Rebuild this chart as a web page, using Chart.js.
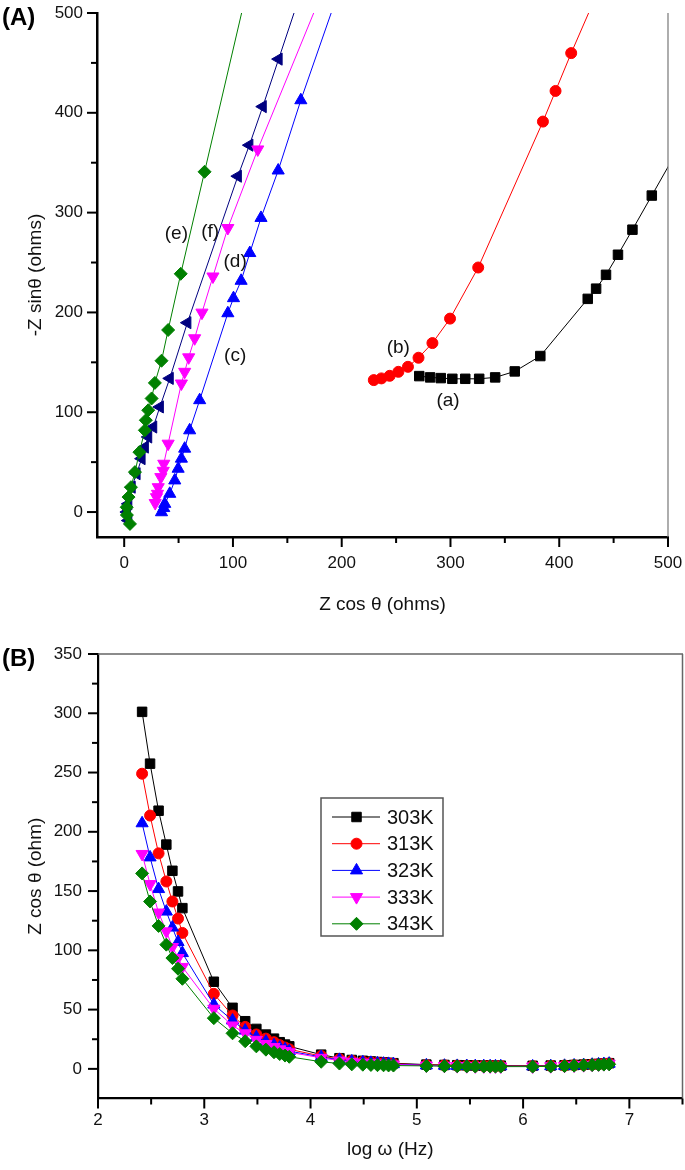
<!DOCTYPE html>
<html><head><meta charset="utf-8">
<script src="https://cdn.jsdelivr.net/npm/chart.js@4.4.1/dist/chart.umd.min.js"></script>
<style>
html,body{margin:0;padding:0;background:#fff;}
#wrap{position:relative;width:685px;height:1170px;overflow:hidden;background:#fff;}
canvas{position:absolute;left:0;}
.tag{position:absolute;left:2px;font:bold 24px Arial,"Liberation Sans",sans-serif;line-height:24px;color:#000;}
</style></head><body>
<div id="wrap">
<canvas id="cA" width="685" height="625" style="top:0"></canvas>
<canvas id="cB" width="685" height="545" style="top:625px"></canvas>
<div class="tag" style="top:5px">(A)</div>
<div class="tag" style="top:646px">(B)</div>
</div>
<script>
// ---------- Panel (A): Nyquist plot data (Z cos θ, -Z sin θ) ----------
const aX = [271.3, 281.3, 291.1, 301.7, 313.6, 326.4, 341.1, 359.1, 382.6, 426.2, 433.9, 443.0, 454.0, 467.3, 485.1, 510];
const aY = [136.2, 134.9, 134.2, 133.5, 133.5, 133.5, 134.9, 140.9, 156.3, 213.6, 223.8, 237.7, 257.8, 282.9, 317.1, 365];
const bX = [229.5, 236.5, 244.1, 252.1, 260.9, 270.6, 283.4, 299.6, 325.5, 385.0, 396.6, 411.0, 431];
const bY = [132.2, 133.9, 136.5, 140.5, 145.5, 154.6, 169.3, 193.8, 245.0, 391.2, 421.9, 459.8, 510];
const cX = [34.3, 36.4, 37.3, 41.9, 46.5, 49.6, 52.6, 55.6, 60.2, 69.4, 95.3, 100.5, 107.5, 115.5, 125.8, 141.6, 162.4, 193.5];
const cY = [-0.2, 4.0, 8.2, 18.3, 31.7, 43.4, 53.5, 63.5, 81.9, 112.1, 199.2, 214.3, 231.7, 259.5, 294.7, 342.2, 412.6, 510];
const dX = [28.5, 29.7, 30.6, 31.3, 33.7, 35.9, 36.4, 40.4, 52.6, 55.6, 59.3, 64.8, 71.5, 81.6, 95.3, 122.8, 178];
const dY = [9.0, 14.9, 18.3, 24.9, 35.0, 41.3, 48.4, 68.5, 128.8, 140.5, 155.0, 174.1, 199.8, 236.0, 284.6, 363.3, 510];
const eX = [5.3, 2.5, 2.3, 4.0, 6.2, 9.9, 14.0, 19.0, 19.9, 22.1, 25.2, 28.2, 34.3, 40.4, 52.0, 73.9, 110.1];
const eY = [-11.9, -3.0, 4.8, 15.0, 24.9, 40.0, 60.0, 81.9, 92.0, 102.0, 113.8, 129.4, 151.6, 182.4, 238.7, 340.9, 510];
const fX = [3.8, 2.5, 3.8, 6.9, 11.4, 16.0, 19.0, 22.1, 26.7, 32.8, 41.9, 58.1, 104.5, 115.1, 127.4, 142.0, 159.2];
const fY = [-8.5, 0.0, 8.2, 24.9, 38.4, 53.5, 65.1, 75.2, 85.2, 105.3, 133.9, 189.7, 336.5, 367.6, 406.2, 453.8, 510];
const nyqTicks = [0, 50, 100, 150, 200, 250, 300, 350, 400, 450, 500];
const curveNames = ['(a)', '(b)', '(c)', '(d)', '(e)', '(f)'];
const curveNameX = [297.8, 252.0, 102.0, 102.0, 48.0, 79.1];
const curveNameY = [111.0, 164.3, 156.3, 250.8, 278.9, 280.9];

// ---------- Panel (B): Z cos θ vs log ω ----------
const logW = [2.415, 2.49, 2.57, 2.643, 2.70, 2.753, 2.794,
  3.09, 3.266, 3.385, 3.49, 3.58, 3.656, 3.71, 3.76, 3.80,
  4.10, 4.272, 4.388, 4.492, 4.568, 4.63, 4.687, 4.734, 4.78,
  5.09, 5.26, 5.38, 5.47, 5.55, 5.63, 5.69, 5.74, 5.79,
  6.09, 6.26, 6.39, 6.48, 6.57, 6.65, 6.71, 6.76, 6.81];
const temps = ['303K', '313K', '323K', '333K', '343K'];
const z303 = [301.2, 257.5, 217.8, 189.2, 167.1, 149.7, 135.6,
  73.5, 51.5, 40.2, 33.7, 28.9, 25.5, 22.5, 20.5, 19.0,
  12.0, 9.0, 7.5, 6.8, 6.2, 5.8, 5.4, 5.1, 4.8,
  3.6, 3.3, 3.1, 3.0, 2.9, 2.8, 2.8, 2.7, 2.7,
  2.6, 2.8, 3.0, 3.3, 3.6, 3.9, 4.2, 4.5, 4.8];
const z313 = [249.0, 213.7, 181.8, 158.1, 141.2, 126.8, 114.7,
  63.3, 45.0, 35.4, 29.0, 25.5, 22.5, 20.0, 18.0, 16.5,
  10.8, 8.2, 6.8, 6.0, 5.5, 5.1, 4.8, 4.5, 4.3,
  3.3, 3.0, 2.8, 2.7, 2.6, 2.5, 2.5, 2.4, 2.4,
  2.4, 2.6, 2.8, 3.1, 3.4, 3.7, 4.0, 4.3, 4.6];
const z323 = [207.2, 178.4, 151.7, 132.7, 119.2, 107.0, 97.7,
  54.3, 40.8, 32.3, 26.7, 23.0, 20.0, 18.0, 16.5, 15.0,
  10.0, 7.6, 6.3, 5.6, 5.1, 4.7, 4.4, 4.2, 4.0,
  3.0, 2.7, 2.5, 2.4, 2.3, 2.3, 2.2, 2.2, 2.2,
  2.1, 2.3, 2.6, 2.9, 3.2, 3.5, 3.8, 4.1, 4.4];
const z333 = [181.3, 155.9, 131.9, 116.0, 102.8, 93.5, 86.0,
  50.7, 36.6, 30.0, 24.5, 21.0, 18.5, 16.5, 15.0, 14.0,
  9.3, 7.0, 5.9, 5.2, 4.8, 4.4, 4.1, 3.9, 3.7,
  2.8, 2.5, 2.3, 2.2, 2.1, 2.1, 2.0, 2.0, 2.0,
  2.0, 2.2, 2.5, 2.8, 3.1, 3.4, 3.7, 4.0, 4.3];
const z343 = [164.9, 141.2, 120.6, 104.8, 93.5, 84.5, 76.0,
  42.8, 30.0, 23.3, 19.0, 16.2, 14.0, 12.5, 11.2, 10.2,
  6.0, 4.5, 3.8, 3.5, 3.3, 3.1, 3.0, 2.9, 2.8,
  2.5, 2.3, 2.2, 2.1, 2.0, 2.0, 2.0, 1.9, 1.9,
  1.9, 2.1, 2.4, 2.7, 3.0, 3.2, 3.4, 3.6, 3.8];
const logWTicks = [2, 2.5, 3, 3.5, 4, 4.5, 5, 5.5, 6, 6.5, 7, 7.5];
const zTicks = [0, 25, 50, 75, 100, 125, 150, 175, 200, 225, 250, 275, 300, 325, 350];

// ---------- helpers ----------
const FONT = 'Arial, "Liberation Sans", sans-serif';
Chart.defaults.font.family = FONT;
Chart.defaults.color = '#111';

function pts(xs, ys) { return xs.map((x, i) => ({ x: x, y: ys[i] })); }

function marker(ctx, style, rot, r, x, y) {
  ctx.save();
  ctx.translate(x, y);
  ctx.rotate(rot * Math.PI / 180);
  ctx.beginPath();
  if (style === 'circle') ctx.arc(0, 0, r, 0, 2 * Math.PI);
  else if (style === 'rect') { const s = r * Math.SQRT1_2; ctx.rect(-s, -s, 2 * s, 2 * s); }
  else if (style === 'rectRot') { ctx.moveTo(0, -r); ctx.lineTo(r, 0); ctx.lineTo(0, r); ctx.lineTo(-r, 0); ctx.closePath(); }
  else if (style === 'triangle') {
    for (let k = 0; k < 3; k++) {
      const a = k * 2 * Math.PI / 3;
      const px = Math.sin(a) * r, py = -Math.cos(a) * r;
      if (k === 0) ctx.moveTo(px, py); else ctx.lineTo(px, py);
    }
    ctx.closePath();
  }
  ctx.fill();
  ctx.stroke();
  ctx.restore();
}

const axisMarks = {
  id: 'axisMarks',
  afterDraw(chart, args, o) {
    const ctx = chart.ctx, ca = chart.chartArea;
    ctx.save();
    ctx.strokeStyle = '#000';
    ctx.lineWidth = o.lineWidth;
    ['x', 'y'].forEach(id => {
      const s = chart.scales[id], step = o.major[id];
      s.ticks.forEach(t => {
        const p = s.getPixelForValue(t.value);
        const q = t.value / step;
        const len = Math.abs(q - Math.round(q)) < 1e-6 ? o.majorLen : o.minorLen;
        ctx.beginPath();
        if (id === 'x') { ctx.moveTo(p, ca.bottom); ctx.lineTo(p, ca.bottom + len); }
        else { ctx.moveTo(ca.left, p); ctx.lineTo(ca.left - len, p); }
        ctx.stroke();
      });
    });
    ctx.strokeStyle = o.frameColor;
    ctx.lineWidth = o.frameWidth;
    ctx.beginPath();
    if (o.frame.indexOf('top') >= 0) { ctx.moveTo(ca.left, ca.top); ctx.lineTo(ca.right + 0.5, ca.top); }
    if (o.frame.indexOf('right') >= 0) { ctx.moveTo(ca.right, ca.top); ctx.lineTo(ca.right, ca.bottom); }
    ctx.stroke();
    ctx.restore();
  }
};

const curveLabels = {
  id: 'curveLabels',
  afterDatasetsDraw(chart) {
    const ctx = chart.ctx, sx = chart.scales.x, sy = chart.scales.y;
    ctx.save();
    ctx.fillStyle = '#111';
    ctx.font = '19px ' + FONT;
    ctx.textAlign = 'center';
    ctx.textBaseline = 'middle';
    curveNames.forEach((t, i) => {
      ctx.fillText(t, sx.getPixelForValue(curveNameX[i]), sy.getPixelForValue(curveNameY[i]));
    });
    ctx.restore();
  }
};

const boxLegend = {
  id: 'boxLegend',
  afterDatasetsDraw(chart) {
    const ctx = chart.ctx, ca = chart.chartArea;
    const x0 = ca.left + 223, y0 = ca.top + 144, w = 122, h = 138;
    ctx.save();
    ctx.fillStyle = '#fff';
    ctx.fillRect(x0, y0, w, h);
    ctx.strokeStyle = '#555';
    ctx.lineWidth = 1.5;
    ctx.strokeRect(x0, y0, w, h);
    chart.data.datasets.forEach((ds, i) => {
      const yc = y0 + 19 + i * 26.7;
      ctx.strokeStyle = ds.borderColor;
      ctx.lineWidth = 1;
      ctx.beginPath();
      ctx.moveTo(x0 + 11, yc); ctx.lineTo(x0 + 59, yc);
      ctx.stroke();
      ctx.fillStyle = ds.pointBackgroundColor;
      ctx.strokeStyle = ds.pointBorderColor;
      marker(ctx, ds.pointStyle, ds.rotation || 0, ds.pointRadius, x0 + 35.5, yc);
      ctx.fillStyle = '#111';
      ctx.font = '20px ' + FONT;
      ctx.textAlign = 'left';
      ctx.textBaseline = 'middle';
      ctx.fillText(temps[i], x0 + 66, yc + 1);
    });
    ctx.restore();
  }
};

function makeDs(data, color, style, rot, r, label) {
  return {
    label: label || '',
    data: data,
    showLine: true,
    borderColor: color,
    backgroundColor: color,
    borderWidth: 1,
    pointBackgroundColor: color,
    pointBorderColor: color,
    pointBorderWidth: 1,
    pointStyle: style,
    rotation: rot,
    pointRadius: r,
    pointHoverRadius: r,
    tension: 0
  };
}

function hiddenBeyond(r, lim) {
  return c => (c.raw && (c.raw.x > lim || c.raw.y > lim)) ? 0 : r;
}

function fixV(w) { return s => { s.width = w; s.paddingTop = 0; s.paddingBottom = 0; }; }
function fixH(h) { return s => { s.height = h; s.paddingLeft = 0; s.paddingRight = 0; }; }

// ---------- Chart A ----------
const dsA = [
  makeDs(pts(aX, aY), '#000000', 'rect', 0, 6.7),
  makeDs(pts(bX, bY), '#ff0000', 'circle', 0, 5.5),
  makeDs(pts(cX, cY), '#0000ff', 'triangle', 0, 7),
  makeDs(pts(dX, dY), '#ff00ff', 'triangle', 180, 7),
  makeDs(pts(eX, eY), '#008000', 'rectRot', 0, 6.5),
  makeDs(pts(fX, fY), '#000080', 'triangle', -90, 7)
];
dsA.forEach(d => { const r = d.pointRadius; d.pointRadius = hiddenBeyond(r, 500); d.pointHoverRadius = 0; });

new Chart(document.getElementById('cA'), {
  type: 'scatter',
  data: { datasets: dsA },
  options: {
    responsive: false,
    animation: false,
    events: [],
    layout: { autoPadding: false, padding: { left: 0, right: 17, top: 13, bottom: 0 } },
    plugins: {
      legend: { display: false },
      tooltip: { enabled: false },
      axisMarks: { major: { x: 100, y: 100 }, majorLen: 10, minorLen: 6, lineWidth: 2, frame: ['right'], frameColor: '#777', frameWidth: 1.2 }
    },
    scales: {
      x: {
        type: 'linear', min: -25, max: 500,
        afterBuildTicks: s => { s.ticks = nyqTicks.map(v => ({ value: v })); },
        afterFit: fixH(88),
        grid: { display: false, drawTicks: false },
        border: { display: true, color: '#000', width: 2.5 },
        ticks: { padding: 16, autoSkip: false, maxRotation: 0, color: '#111', font: { size: 17 },
          callback: v => (v % 100 === 0 ? String(v) : '') },
        title: { display: true, text: 'Z cos θ (ohms)', color: '#111', font: { size: 19 }, padding: { top: 0, bottom: 9 } }
      },
      y: {
        type: 'linear', min: -25, max: 500,
        afterBuildTicks: s => { s.ticks = nyqTicks.map(v => ({ value: v })); },
        afterFit: fixV(97),
        grid: { display: false, drawTicks: false },
        border: { display: true, color: '#000', width: 2.5 },
        ticks: { padding: 14, autoSkip: false, color: '#111', font: { size: 17 },
          callback: v => (v % 100 === 0 ? String(v) : '') },
        title: { display: true, text: '-Z sinθ (ohms)', color: '#111', font: { size: 19 }, padding: { top: 24, bottom: 0 } }
      }
    }
  },
  plugins: [axisMarks, curveLabels]
});

// ---------- Chart B ----------
const dsB = [
  makeDs(pts(logW, z303), '#000000', 'rect', 0, 6.7, temps[0]),
  makeDs(pts(logW, z313), '#ff0000', 'circle', 0, 5.5, temps[1]),
  makeDs(pts(logW, z323), '#0000ff', 'triangle', 0, 7, temps[2]),
  makeDs(pts(logW, z333), '#ff00ff', 'triangle', 180, 7, temps[3]),
  makeDs(pts(logW, z343), '#008000', 'rectRot', 0, 6.5, temps[4])
];
dsB.forEach((d, i) => { d.order = 5 - i; });

new Chart(document.getElementById('cB'), {
  type: 'scatter',
  data: { datasets: dsB },
  options: {
    responsive: false,
    animation: false,
    events: [],
    layout: { autoPadding: false, padding: { left: 0, right: 2.5, top: 29, bottom: 0 } },
    plugins: {
      legend: { display: false },
      tooltip: { enabled: false },
      axisMarks: { major: { x: 1, y: 50 }, majorLen: 10, minorLen: 6, lineWidth: 2, frame: ['top', 'right'], frameColor: '#666', frameWidth: 1.5 }
    },
    scales: {
      x: {
        type: 'linear', min: 2, max: 7.5,
        afterBuildTicks: s => { s.ticks = logWTicks.map(v => ({ value: v })); },
        afterFit: fixH(71.5),
        grid: { display: false, drawTicks: false },
        border: { display: true, color: '#000', width: 2.2 },
        ticks: { padding: 12, autoSkip: false, maxRotation: 0, color: '#111', font: { size: 17 },
          callback: v => (Number.isInteger(v) ? String(v) : '') },
        title: { display: true, text: 'log ω (Hz)', color: '#111', font: { size: 19 }, padding: { top: 0, bottom: 9 } }
      },
      y: {
        type: 'linear', min: -25, max: 350,
        afterBuildTicks: s => { s.ticks = zTicks.map(v => ({ value: v })); },
        afterFit: fixV(98),
        grid: { display: false, drawTicks: false },
        border: { display: true, color: '#000', width: 2.2 },
        ticks: { padding: 16, autoSkip: false, color: '#111', font: { size: 17 },
          callback: v => (v % 50 === 0 ? String(v) : '') },
        title: { display: true, text: 'Z cos θ (ohm)', color: '#111', font: { size: 19 }, padding: { top: 24, bottom: 0 } }
      }
    }
  },
  plugins: [axisMarks, boxLegend]
});
</script>
</body></html>
